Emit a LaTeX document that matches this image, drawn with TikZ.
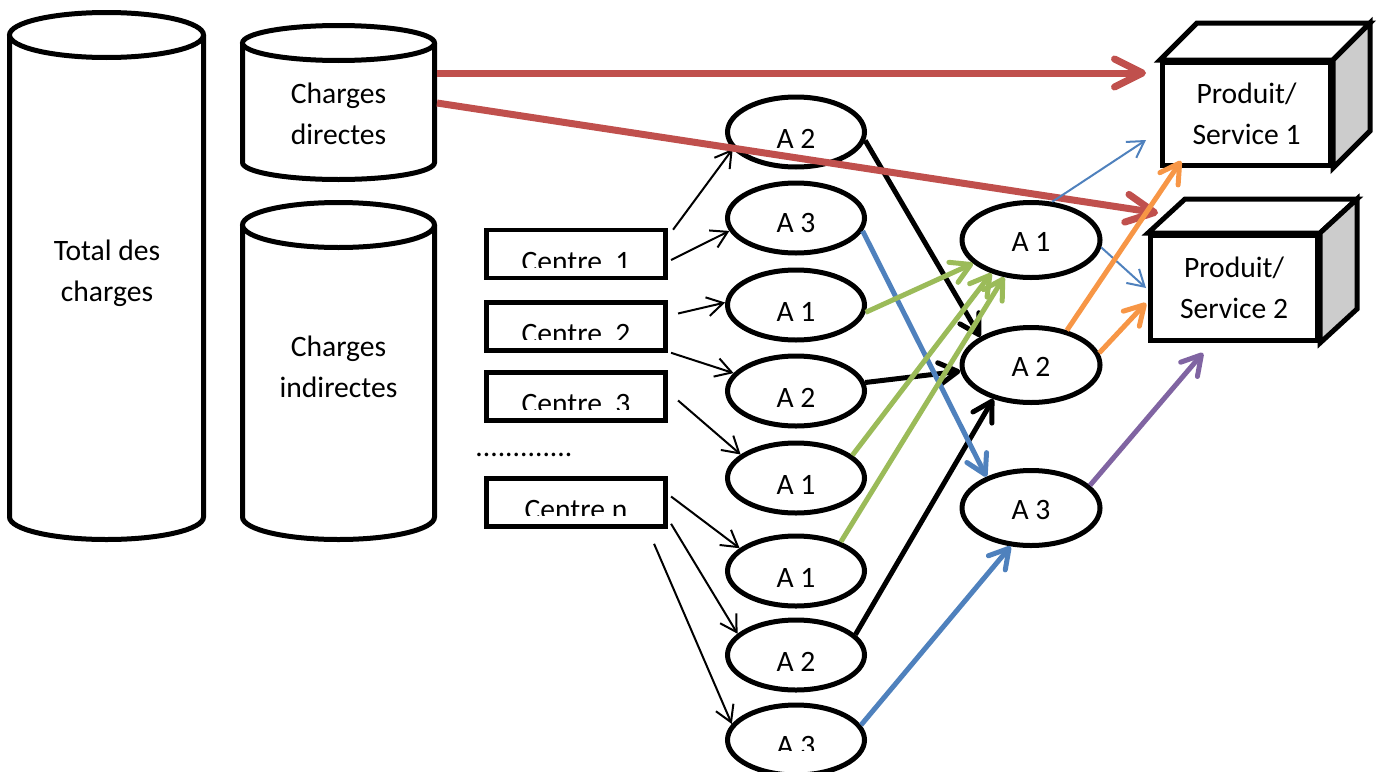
\documentclass[tikz,border=0pt]{standalone}
\usepackage{fontspec}
\setmainfont{Carlito}
\usetikzlibrary{arrows.meta,calc,shapes.geometric}
\definecolor{cred}{HTML}{C0504D}
\definecolor{cblue}{HTML}{4F81BD}
\definecolor{cgreen}{HTML}{9BBB59}
\definecolor{corange}{HTML}{F79646}
\definecolor{cpurple}{HTML}{8064A2}
\definecolor{cgray}{HTML}{CCCCCC}
\newcommand{\clippedlabel}[5]{%
  \begin{scope}
    \clip ($(#1.center)+(-90,-40)$) rectangle ($(#1.center)+(90,#3)$);
    \node[anchor=base] (#5) at ($(#1.center)+(0,#2)$) {#4};
  \end{scope}}
\begin{document}
\begin{tikzpicture}[x=0.5pt,y=-0.5pt,
  every node/.style={font=\fontsize{14.8}{20.5}\selectfont},
  outl/.style={line width=2.5pt, draw=black},
  act/.style={ellipse, draw, line width=2.5pt, fill=white, inner sep=0pt,
    minimum width=68.5pt, minimum height=35pt, text height=16pt, text depth=0pt},
  act2/.style={act, minimum width=69pt, minimum height=37.5pt, text height=11pt},
  cbox/.style={draw, line width=2.3pt, minimum width=89.75pt, minimum height=24pt, inner sep=0pt},
  pbox/.style={draw, line width=2.5pt, fill=white, align=center, inner sep=0pt},
  thinarr/.style={line width=1pt, -{Straight Barb[length=8pt,width=9.5pt]}},
  thickarr/.style={line width=2.5pt, -{Straight Barb[length=9.5pt,width=11pt,round]}},
  redarr/.style={line width=3.5pt, draw=cred, -{Straight Barb[length=14pt,width=14pt,round]}},
]
\useasboundingbox (0,0) rectangle (1380,771);
\clip (0,0) rectangle (1380,771);

% cylinders
\draw[outl, fill=white] (9.5,35) -- (9.5,517) arc[start angle=180, end angle=0, x radius=97, y radius=22.5] -- (203.5,35);
\draw[outl, fill=white] (106.5,35) ellipse [x radius=97, y radius=22.5];
\node[align=center] (tot) at (107,273) {Total des\\charges};

\draw[outl, fill=white] (242.5,43) -- (242.5,162.5) arc[start angle=180, end angle=0, x radius=96, y radius=17] -- (434.5,43);
\draw[outl, fill=white] (338.5,43) ellipse [x radius=96, y radius=17.5];
\node[align=center] (cdir) at (338.5,114) {Charges\\directes};

\draw[outl, fill=white] (242.5,225) -- (242.5,517) arc[start angle=180, end angle=0, x radius=96, y radius=22.5] -- (434.5,225);
\draw[outl, fill=white] (338.5,225) ellipse [x radius=96, y radius=22.5];
\node[align=center] (cind) at (338.5,366.5) {Charges\\indirectes};

\coordinate (rd1) at (437,73);
\coordinate (rd2) at (437,103);

% centres
\node[cbox] (c1) at (576,254) {};
\node[cbox] (c2) at (576,326.5) {};
\node[cbox] (c3) at (576,396.5) {};
\node[cbox] (cn) at (576,502.5) {};
\clippedlabel{c1}{17}{13}{Centre~ 1}{c1t}
\clippedlabel{c2}{16.5}{12.5}{Centre~ 2}{c2t}
\clippedlabel{c3}{16.5}{12.5}{Centre~ 3}{c3t}
\clippedlabel{cn}{16.5}{12.5}{Centre n}{cnt}
\node[anchor=base west, inner sep=0pt] (dots) at (475,456) {.............};

% activities column 1
\node[act] (e1) at (796,132) {A 2};
\node[act, text height=14pt] (e2) at (796,218) {A 3};
\node[act] (e3) at (796,305) {A 1};
\node[act] (e4) at (796,391) {A 2};
\node[act] (e5) at (796,478) {A 1};
\node[act] (e6) at (796,571) {A 1};
\node[act] (e7) at (796,655) {A 2};
\node[act] (e8) at (796,740) {};
\clippedlabel{e8}{15}{10}{A 3}{e8t}

% activities column 2
\node[act2] (f1) at (1031,240) {A 1};
\node[act2] (f2) at (1031,365) {A 2};
\node[act2] (f3) at (1031,508) {A 3};

% products
\node[pbox, minimum width=84pt, minimum height=51.5pt] (ps1) at (1246.5,114) {Produit/\\Service 1};
\draw[outl, fill=white, line join=miter] (ps1.north west) -- ++(37,-37) -- ($(ps1.north east)+(37,-37)$) -- (ps1.north east) -- cycle;
\draw[outl, fill=cgray, line join=miter] (ps1.north east) -- ++(37,-37) -- ($(ps1.south east)+(37,-37)$) -- (ps1.south east) -- cycle;

\node[pbox, minimum width=83.5pt, minimum height=52.5pt] (ps2) at (1234,288) {Produit/\\Service 2};
\draw[outl, fill=white, line join=miter] (ps2.north west) -- ++(37,-34) -- ($(ps2.north east)+(37,-34)$) -- (ps2.north east) -- cycle;
\draw[outl, fill=cgray, line join=miter] (ps2.north east) -- ++(37,-34) -- ($(ps2.south east)+(37,-34)$) -- (ps2.south east) -- cycle;

% thin black arrows from centres
\draw[thinarr] ($(c1.north east)+(5,2)$) -- (e1.195);
\draw[thinarr] ($(c1.east)+(3,6)$) -- (e2.191);
\draw[thinarr] ($(c2.east)+(10,-13)$) -- (e3.178);
\draw[thinarr] ($(c2.south east)+(3,0)$) -- (e4.164);
\draw[thinarr] ($(c3.east)+(10,4)$) -- (e5.157);
\draw[thinarr] ($(cn.east)+(3,-6)$) -- (e6.158);
\draw[thinarr] ($(cn.south east)+(3,-5)$) -- (e7.160);
\coordinate (cnx) at ($(cn.south east)+(-14,15)$);
\draw[thinarr] (cnx) -- (e8.166);

% thick black
\draw[thickarr] (e1.-7) -- (f2.151);
\draw[thickarr] (e4.7) -- (f2.185);
\draw[thickarr] (e7.19) -- (f2.222);
% blue thick
\draw[thickarr, draw=cblue] (e2.-11) -- (f3.145);
\draw[thickarr, draw=cblue] (e8.13) -- (f3.242);
% green
\draw[thickarr, draw=cgreen] (e3.-6) -- (f1.202);
\draw[thickarr, draw=cgreen] (e5.22) -- (f1.220);
\draw[thickarr, draw=cgreen] (e6.33) -- (f1.234);
% red
\draw[redarr] (rd1) -- ($(ps1.west)+(-14,-41)$);
\draw[redarr] (rd2) -- ($(ps2.north west)+(10,-20)$);
% blue thin
\draw[thinarr, draw=cblue] (f1.61) -- ($(ps1.west)+(-14,26)$);
\draw[thinarr, draw=cblue] (f1.-6) -- ($(ps2.west)+(-2,0)$);
% orange
\draw[thickarr, draw=corange] (f2.44) -- ($(ps1.south west)+(21,-7)$);
\draw[thickarr, draw=corange] (f2.10) -- ($(ps2.west)+(-2,15)$);
% purple
\draw[thickarr, draw=cpurple] (f3.21) -- ($(ps2.south west)+(55,10)$);
\end{tikzpicture}
\end{document}
